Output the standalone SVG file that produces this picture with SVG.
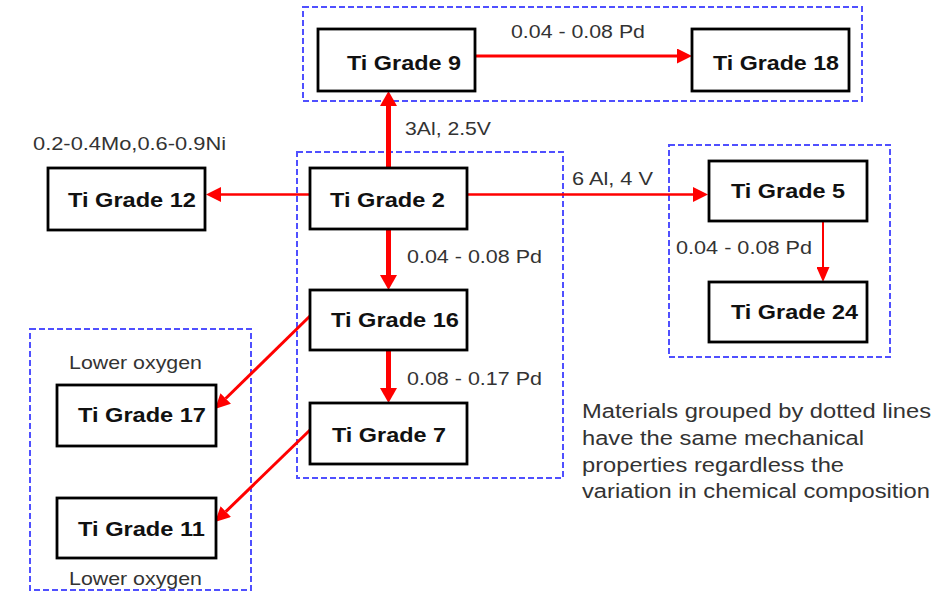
<svg xmlns="http://www.w3.org/2000/svg" width="935" height="592" viewBox="0 0 935 592">
<style>
.grp{fill:none;stroke:#5050ff;stroke-width:2;stroke-dasharray:6 3}
.box{fill:#fff;stroke:#000;stroke-width:2.8}
.nt{font-family:"Liberation Sans",Arial,sans-serif;font-weight:bold;font-size:21px;fill:#111}
.lb{font-family:"Liberation Sans",Arial,sans-serif;font-size:19px;fill:#333}
.note{font-family:"Liberation Sans",Arial,sans-serif;font-size:20px;fill:#333}
.c{stroke:#f00;fill:none}
</style>
<defs>
<marker id="hL" markerUnits="userSpaceOnUse" viewBox="0 -8.5 15 17" markerWidth="15" markerHeight="17" refX="0" refY="0" orient="auto"><path d="M0,-8.5 L15,0 L0,8.5 Z" fill="#f00"/></marker>
<marker id="hM" markerUnits="userSpaceOnUse" viewBox="0 -7.5 15 15" markerWidth="15" markerHeight="15" refX="0" refY="0" orient="auto"><path d="M0,-7.5 L15,0 L0,7.5 Z" fill="#f00"/></marker>
<marker id="hS" markerUnits="userSpaceOnUse" viewBox="0 -6.5 15 13" markerWidth="15" markerHeight="13" refX="0" refY="0" orient="auto"><path d="M0,-6.5 L15,0 L0,6.5 Z" fill="#f00"/></marker>
</defs>
<rect width="935" height="592" fill="#fff"/>
<g id="groups">
<rect class="grp" x="303" y="7" width="559" height="94"/>
<rect class="grp" x="297" y="152" width="266" height="326"/>
<rect class="grp" x="669" y="145" width="221" height="212"/>
<rect class="grp" x="30" y="329" width="221" height="261"/>
</g>
<g id="connectors">
<line class="c" x1="388.5" y1="168" x2="388.5" y2="106" stroke-width="5" marker-end="url(#hL)"/>
<line class="c" x1="475" y1="56" x2="677" y2="56" stroke-width="3" marker-end="url(#hM)"/>
<line class="c" x1="310" y1="194.5" x2="221" y2="194.5" stroke-width="2.7" marker-end="url(#hM)"/>
<line class="c" x1="467" y1="194.5" x2="693" y2="194.5" stroke-width="2.5" marker-end="url(#hM)"/>
<line class="c" x1="388.5" y1="229" x2="388.5" y2="275" stroke-width="5" marker-end="url(#hL)"/>
<line class="c" x1="388.5" y1="350" x2="388.5" y2="388" stroke-width="5" marker-end="url(#hL)"/>
<line class="c" x1="823" y1="221" x2="823" y2="267" stroke-width="2" marker-end="url(#hS)"/>
<line class="c" x1="310" y1="316" x2="225.7" y2="398.5" stroke-width="3" marker-end="url(#hM)"/>
<line class="c" x1="310" y1="430" x2="225.8" y2="511.6" stroke-width="3" marker-end="url(#hM)"/>
<text class="lb" x="511" y="38" textLength="134" lengthAdjust="spacingAndGlyphs">0.04 - 0.08 Pd</text>
<text class="lb" x="405" y="135" textLength="86" lengthAdjust="spacingAndGlyphs">3Al, 2.5V</text>
<text class="lb" x="33" y="150" textLength="193" lengthAdjust="spacingAndGlyphs">0.2-0.4Mo,0.6-0.9Ni</text>
<text class="lb" x="572" y="185" textLength="81" lengthAdjust="spacingAndGlyphs">6 Al, 4 V</text>
<text class="lb" x="407" y="263" textLength="135" lengthAdjust="spacingAndGlyphs">0.04 - 0.08 Pd</text>
<text class="lb" x="676" y="254" textLength="136" lengthAdjust="spacingAndGlyphs">0.04 - 0.08 Pd</text>
<text class="lb" x="407" y="385" textLength="135" lengthAdjust="spacingAndGlyphs">0.08 - 0.17 Pd</text>
<text class="lb" x="69" y="369" textLength="133" lengthAdjust="spacingAndGlyphs">Lower oxygen</text>
<text class="lb" x="69" y="585" textLength="133" lengthAdjust="spacingAndGlyphs">Lower oxygen</text>
</g>
<g id="n9"><rect class="box" x="318" y="29" width="157" height="62"/><text class="nt" x="347" y="70" textLength="114" lengthAdjust="spacingAndGlyphs">Ti Grade 9</text></g>
<g id="n18"><rect class="box" x="692" y="29" width="157" height="62"/><text class="nt" x="713" y="70" textLength="126" lengthAdjust="spacingAndGlyphs">Ti Grade 18</text></g>
<g id="n12"><rect class="box" x="48" y="168" width="157" height="62"/><text class="nt" x="68" y="207" textLength="128" lengthAdjust="spacingAndGlyphs">Ti Grade 12</text></g>
<g id="n2"><rect class="box" x="310" y="168" width="157" height="61"/><text class="nt" x="330" y="207" textLength="115" lengthAdjust="spacingAndGlyphs">Ti Grade 2</text></g>
<g id="n16"><rect class="box" x="310" y="290" width="157" height="60"/><text class="nt" x="331" y="327" textLength="128" lengthAdjust="spacingAndGlyphs">Ti Grade 16</text></g>
<g id="n7"><rect class="box" x="310" y="403" width="157" height="61"/><text class="nt" x="332" y="442" textLength="114" lengthAdjust="spacingAndGlyphs">Ti Grade 7</text></g>
<g id="n17"><rect class="box" x="57" y="385" width="159" height="61"/><text class="nt" x="78" y="422" textLength="128" lengthAdjust="spacingAndGlyphs">Ti Grade 17</text></g>
<g id="n11"><rect class="box" x="57" y="498" width="159" height="60"/><text class="nt" x="78" y="536" textLength="127" lengthAdjust="spacingAndGlyphs">Ti Grade 11</text></g>
<g id="n5"><rect class="box" x="709" y="161" width="158" height="60"/><text class="nt" x="731" y="198" textLength="114" lengthAdjust="spacingAndGlyphs">Ti Grade 5</text></g>
<g id="n24"><rect class="box" x="709" y="282" width="158" height="60"/><text class="nt" x="731" y="319" textLength="127" lengthAdjust="spacingAndGlyphs">Ti Grade 24</text></g>
<g id="note">
<text class="note" x="582" y="418" textLength="349" lengthAdjust="spacingAndGlyphs">Materials grouped by dotted lines</text>
<text class="note" x="582" y="445" textLength="282" lengthAdjust="spacingAndGlyphs">have the same mechanical</text>
<text class="note" x="582" y="472" textLength="262" lengthAdjust="spacingAndGlyphs">properties regardless the</text>
<text class="note" x="582" y="498" textLength="348" lengthAdjust="spacingAndGlyphs">variation in chemical composition</text>
</g>
</svg>
